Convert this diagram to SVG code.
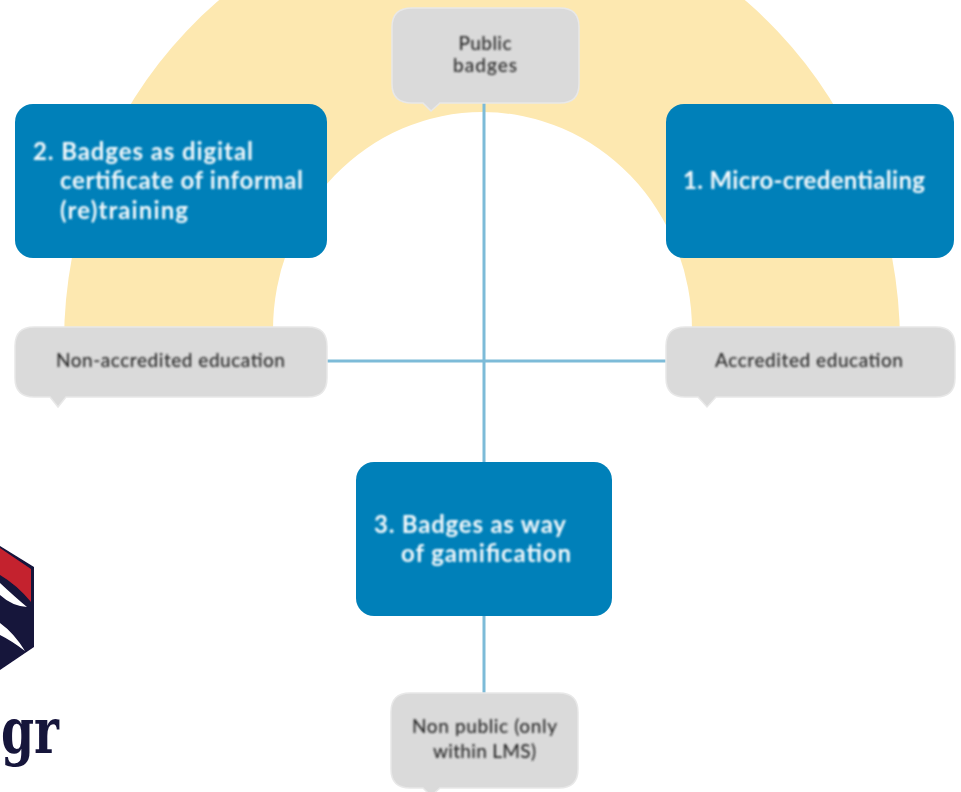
<svg xmlns="http://www.w3.org/2000/svg" width="961" height="792" viewBox="0 0 961 792">
<defs>
<filter id="soft" x="-5%" y="-10%" width="110%" height="120%"><feGaussianBlur stdDeviation="0.8"/></filter>
<filter id="softer" x="-5%" y="-5%" width="110%" height="110%"><feGaussianBlur stdDeviation="0.55"/></filter>
</defs>
<style>
.blue{fill:#0080b9}
.grey{fill:#dadada;stroke:#e8e8e8;stroke-width:1.5}
.h{font-family:"Lato","Liberation Sans",sans-serif;font-size:24px;font-weight:700;fill:#f4f9fc;filter:url(#soft)}
.s{font-family:"Lato","Liberation Sans",sans-serif;font-size:19px;font-weight:500;fill:#2a2a2a;text-anchor:middle;filter:url(#soft)}
.c{stroke:#7dbbd8;stroke-width:3;fill:none}
.navy{fill:#14123a}
</style>
<rect width="961" height="792" fill="#ffffff"/>
<g id="arch" filter="url(#softer)"><path d="M64 343 A418 441 0 0 1 900 343 L692 343 V330 A209.500 218 0 0 0 273 330 V343 Z" fill="#fde8b0"/></g>
<g id="connectors" filter="url(#softer)">
<line class="c" x1="484" y1="100" x2="484" y2="694"/>
<line class="c" x1="326" y1="361" x2="667" y2="361"/>
</g>
<g id="node-public" filter="url(#softer)">
<path class="grey" d="M412 8H560Q579 8 579 27V84Q579 103 560 103H440L431 111L423 103H412Q392 103 392 84V27Q392 8 412 8Z"/>
<text class="s" x="485" y="50" textLength="53">Public</text><text class="s" x="485" y="72" textLength="64">badges</text>
</g>
<g id="node-2" filter="url(#softer)">
<rect class="blue" x="15" y="104" width="312" height="154" rx="18"/>
<text class="h" x="33" y="160" textLength="220">2. Badges as digital</text>
<text class="h" x="60" y="189" textLength="243">certificate of informal</text>
<text class="h" x="60" y="219" textLength="128">(re)training</text>
</g>
<g id="node-1" filter="url(#softer)">
<rect class="blue" x="666" y="104" width="288" height="154" rx="18"/>
<text class="h" x="683" y="189" textLength="242">1. Micro-credentialing</text>
</g>
<g id="node-nonacc" filter="url(#softer)">
<path class="grey" d="M34 327H308Q327 327 327 346V378Q327 397 308 397H66L58 407L50 397H34Q15 397 15 378V346Q15 327 34 327Z"/>
<text class="s" x="170.500" y="367" textLength="229">Non-accredited education</text>
</g>
<g id="node-acc" filter="url(#softer)">
<path class="grey" d="M685 327H936Q955 327 955 346V378Q955 397 936 397H716L707 407L698 397H685Q666 397 666 378V346Q666 327 685 327Z"/>
<text class="s" x="809" y="367" textLength="188">Accredited education</text>
</g>
<g id="node-3" filter="url(#softer)">
<rect class="blue" x="356" y="462" width="256" height="154" rx="18"/>
<text class="h" x="374" y="533" textLength="192">3. Badges as way</text>
<text class="h" x="401" y="562" textLength="170">of gamification</text>
</g>
<g id="node-nonpublic" filter="url(#softer)">
<path class="grey" d="M410 693H559Q578 693 578 712V769Q578 788 559 788H440L431 796L423 788H410Q391 788 391 769V712Q391 693 410 693Z"/>
<text class="s" x="484.500" y="733" textLength="145">Non public (only</text><text class="s" x="484.500" y="758" textLength="103">within LMS)</text>
</g>
<g id="logo" filter="url(#softer)">
<path class="navy" d="M0 546L34 567V647L0 670Z"/>
<path d="M0 548L31 569V602Q17 585 0 575Z" fill="#c4202e"/>
<path d="M0 583Q15 597 27 607Q12 606 0 595Z" fill="#ffffff"/>
<path d="M0 623Q14 633 25 651Q12 641 0 635Z" fill="#ffffff"/>
<text x="1" y="753" textLength="58" lengthAdjust="spacingAndGlyphs" font-family="DejaVu Serif, serif" font-weight="700" font-size="64" fill="#14123a">gr</text>
</g>
</svg>
